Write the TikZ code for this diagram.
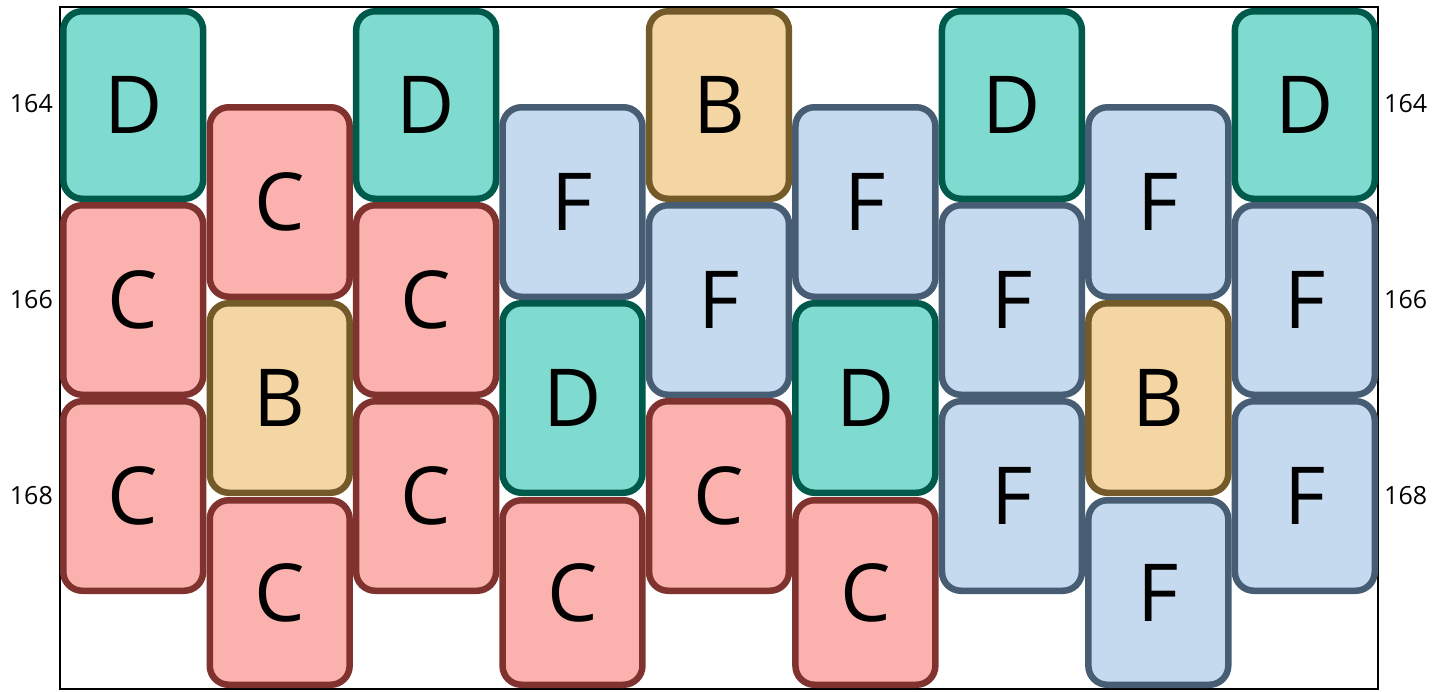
\documentclass[tikz,border=0pt]{standalone}
\usepackage{fontspec}
\setmainfont{Open Sans}
\definecolor{dfill}{HTML}{7FDBCF}
\definecolor{ddraw}{HTML}{005A4B}
\definecolor{cfill}{HTML}{FBB1AD}
\definecolor{cdraw}{HTML}{7F322E}
\definecolor{bfill}{HTML}{F3D6A4}
\definecolor{bdraw}{HTML}{745A28}
\definecolor{ffill}{HTML}{C5DAEE}
\definecolor{fdraw}{HTML}{475D73}
\tikzset{
  cell/.style={draw, line width=6.5pt, rounded corners=19pt, inner sep=0pt,
    minimum width=139.9pt, font=\fontsize{80}{80}\selectfont, text=black},
  cellD/.style={cell, fill=dfill, draw=ddraw},
  cellC/.style={cell, fill=cfill, draw=cdraw},
  cellB/.style={cell, fill=bfill, draw=bdraw},
  cellF/.style={cell, fill=ffill, draw=fdraw},
  ra/.style={minimum height=187.5pt},
  rb/.style={minimum height=189.5pt},
  rc/.style={minimum height=184.5pt},
  tick/.style={font=\fontsize{25}{25}\selectfont, inner sep=0pt},
}
\begin{document}
\begin{tikzpicture}[x=1pt,y=-1pt]
\useasboundingbox (0,0) rectangle (1447,691);
% frame
\draw[line width=2.5pt] (60,7) rectangle (1378,689);
% column 1
\node[cellD,ra] (a1) at (133.2,105) {D};
\node[cellC,rb] (a2) at (133.2,300) {C};
\node[cellC,rb] (a3) at (133.2,496) {C};
% column 2
\node[cellC,rb] (b1) at (279.7,202) {C};
\node[cellB,rb] (b2) at (279.7,398) {B};
\node[cellC,rc] (b3) at (279.7,592.5) {C};
% column 3
\node[cellD,ra] (c1) at (426.1,105) {D};
\node[cellC,rb] (c2) at (426.1,300) {C};
\node[cellC,rb] (c3) at (426.1,496) {C};
% column 4
\node[cellF,rb] (d1) at (572.5,202) {F};
\node[cellD,rb] (d2) at (572.5,398) {D};
\node[cellC,rc] (d3) at (572.5,592.5) {C};
% column 5
\node[cellB,ra] (e1) at (719.0,105) {B};
\node[cellF,rb] (e2) at (719.0,300) {F};
\node[cellC,rb] (e3) at (719.0,496) {C};
% column 6
\node[cellF,rb] (f1) at (865.4,202) {F};
\node[cellD,rb] (f2) at (865.4,398) {D};
\node[cellC,rc] (f3) at (865.4,592.5) {C};
% column 7
\node[cellD,ra] (g1) at (1011.9,105) {D};
\node[cellF,rb] (g2) at (1011.9,300) {F};
\node[cellF,rb] (g3) at (1011.9,496) {F};
% column 8
\node[cellF,rb] (h1) at (1158.3,202) {F};
\node[cellB,rb] (h2) at (1158.3,398) {B};
\node[cellF,rc] (h3) at (1158.3,592.5) {F};
% column 9
\node[cellD,ra] (i1) at (1304.8,105) {D};
\node[cellF,rb] (i2) at (1304.8,300) {F};
\node[cellF,rb] (i3) at (1304.8,496) {F};
% tick labels
\node[tick,anchor=east] (l1) at (53,104) {164};
\node[tick,anchor=east] (l2) at (53,300) {166};
\node[tick,anchor=east] (l3) at (53,496) {168};
\node[tick,anchor=west] (r1) at (1384,104) {164};
\node[tick,anchor=west] (r2) at (1384,300) {166};
\node[tick,anchor=west] (r3) at (1384,496) {168};
\end{tikzpicture}
\end{document}
